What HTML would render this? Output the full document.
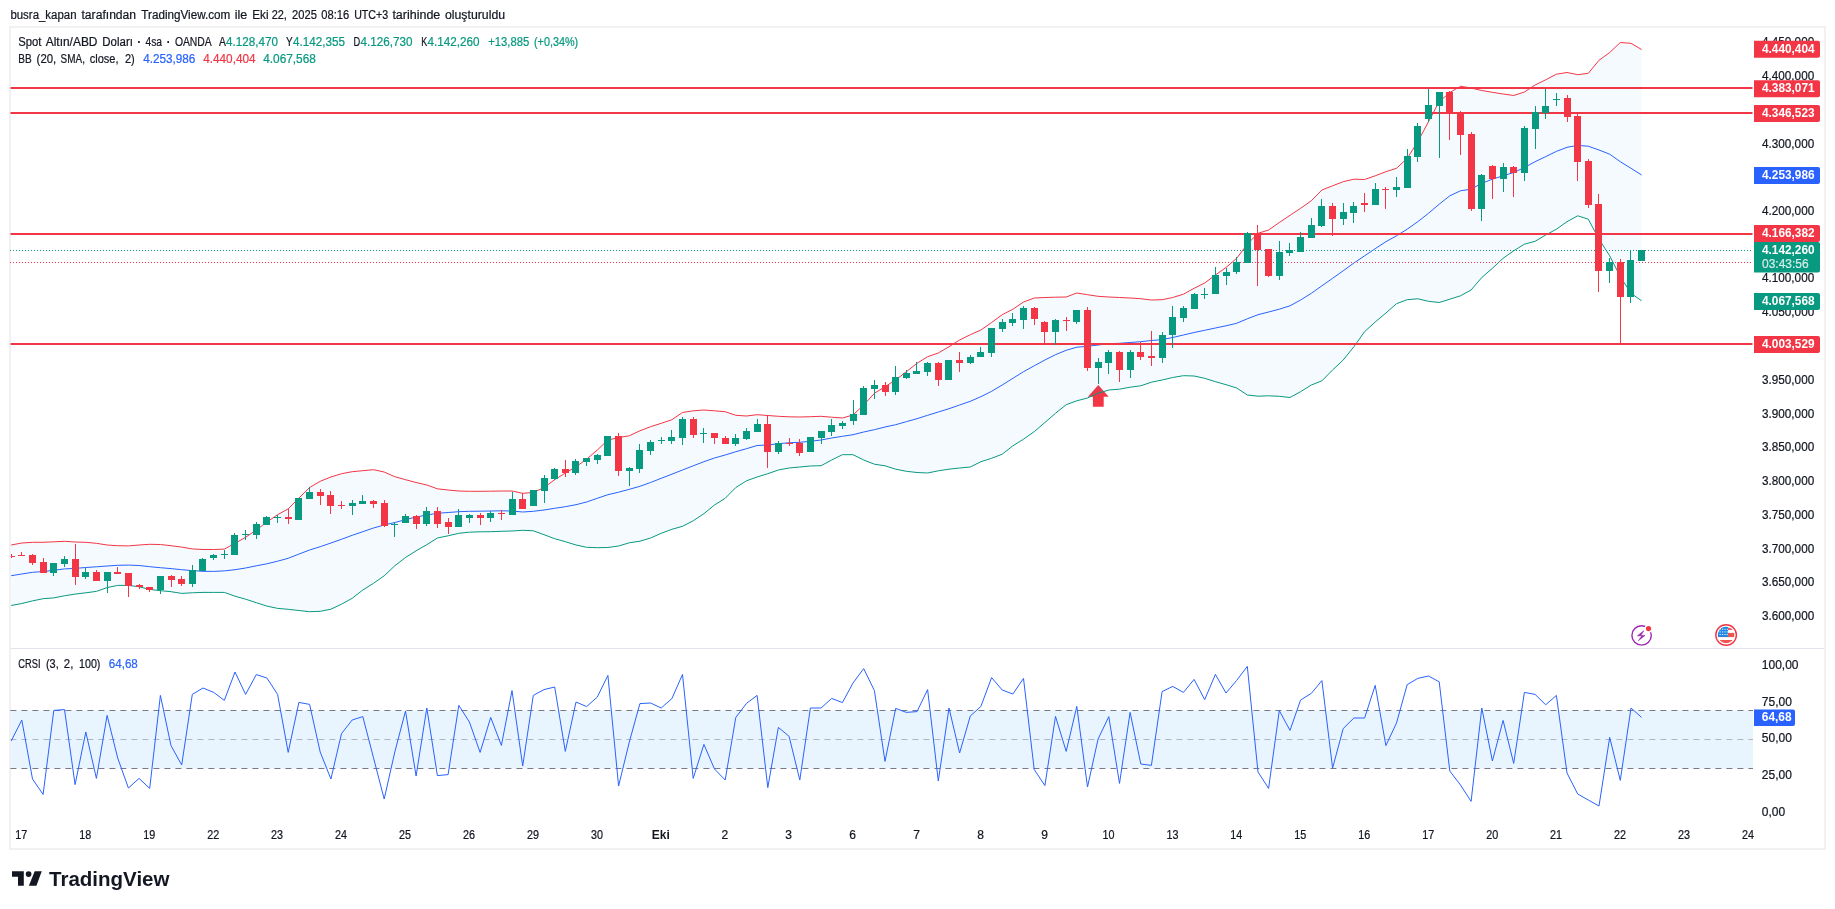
<!DOCTYPE html>
<html lang="tr"><head><meta charset="utf-8"><title>XAUUSD 4sa - TradingView</title>
<style>html,body{margin:0;padding:0;background:#fff}body{width:1835px;height:909px;overflow:hidden}svg{display:block;will-change:transform}text{white-space:pre}</style>
</head><body>
<svg width="1835" height="909" viewBox="0 0 1835 909" font-family='"Liberation Sans", sans-serif'>
<rect width="1835" height="909" fill="#fff"/>
<rect x="10" y="27" width="1815" height="822" fill="none" stroke="#f1f1f1" stroke-width="2"/>
<rect x="11" y="648" width="1813" height="1" fill="#e0e3eb"/>
<text x="10.4" y="18.6" font-size="12" fill="#131722" stroke="#131722" stroke-width="0.22" textLength="66.1" lengthAdjust="spacingAndGlyphs">busra_kapan</text>
<text x="81.5" y="18.6" font-size="12" fill="#131722" stroke="#131722" stroke-width="0.22" textLength="54.6" lengthAdjust="spacingAndGlyphs">tarafından</text>
<text x="141.3" y="18.6" font-size="12" fill="#131722" stroke="#131722" stroke-width="0.22" textLength="89.0" lengthAdjust="spacingAndGlyphs">TradingView.com</text>
<text x="234.8" y="18.6" font-size="12" fill="#131722" stroke="#131722" stroke-width="0.22" textLength="12.5" lengthAdjust="spacingAndGlyphs">ile</text>
<text x="252.2" y="18.6" font-size="12" fill="#131722" stroke="#131722" stroke-width="0.22" textLength="16.3" lengthAdjust="spacingAndGlyphs">Eki</text>
<text x="271.7" y="18.6" font-size="12" fill="#131722" stroke="#131722" stroke-width="0.22" textLength="15.2" lengthAdjust="spacingAndGlyphs">22,</text>
<text x="292.1" y="18.6" font-size="12" fill="#131722" stroke="#131722" stroke-width="0.22" textLength="24.8" lengthAdjust="spacingAndGlyphs">2025</text>
<text x="321.3" y="18.6" font-size="12" fill="#131722" stroke="#131722" stroke-width="0.22" textLength="27.9" lengthAdjust="spacingAndGlyphs">08:16</text>
<text x="354.2" y="18.6" font-size="12" fill="#131722" stroke="#131722" stroke-width="0.22" textLength="34.0" lengthAdjust="spacingAndGlyphs">UTC+3</text>
<text x="392.4" y="18.6" font-size="12" fill="#131722" stroke="#131722" stroke-width="0.22" textLength="47.9" lengthAdjust="spacingAndGlyphs">tarihinde</text>
<text x="444.9" y="18.6" font-size="12" fill="#131722" stroke="#131722" stroke-width="0.22" textLength="60.2" lengthAdjust="spacingAndGlyphs">oluşturuldu</text>
<clipPath id="mc"><rect x="11" y="28.5" width="1742" height="619.5"/></clipPath>
<g clip-path="url(#mc)">
<path d="M1098.3,385 L1108.7,396.8 L1103.7,396.8 L1103.7,406.8 L1092.8999999999999,406.8 L1092.8999999999999,396.8 L1087.8999999999999,396.8 Z" fill="#F23645"/>
<polygon points="11.2,545.0 21.8,543.0 32.5,542.3 43.1,542.3 53.8,541.8 64.5,541.3 75.1,542.0 85.8,542.3 96.4,543.3 107.1,545.0 117.7,545.7 128.4,545.9 139.1,545.0 149.7,544.3 160.4,544.5 171.0,545.7 181.7,547.1 192.3,548.9 203.0,549.5 213.7,549.5 224.3,549.1 235.0,543.3 245.6,537.3 256.3,530.0 266.9,522.0 277.6,514.7 288.2,508.9 298.9,498.1 309.6,487.5 320.2,481.3 330.9,477.0 341.5,473.7 352.2,471.7 362.8,470.7 373.5,469.7 384.2,472.0 394.8,476.7 405.5,479.7 416.1,482.5 426.8,485.0 437.4,488.8 448.1,490.0 458.8,491.0 469.4,491.3 480.1,491.3 490.7,491.2 501.4,491.0 512.0,491.0 522.7,493.3 533.3,492.5 544.0,487.5 554.7,479.7 565.3,473.0 576.0,466.7 586.6,459.2 597.3,450.0 607.9,440.0 618.6,437.5 629.3,435.8 639.9,430.8 650.6,426.7 661.2,423.3 671.9,419.7 682.5,412.5 693.2,410.8 703.9,410.0 714.5,410.8 725.2,411.7 735.8,415.3 746.5,416.0 757.1,414.7 767.8,415.5 778.4,416.3 789.1,416.8 799.8,417.0 810.4,416.7 821.1,416.3 831.7,417.2 842.4,418.0 853.0,415.0 863.7,405.0 874.4,393.3 885.0,386.7 895.7,380.0 906.3,371.7 917.0,363.3 927.6,356.7 938.3,353.0 949.0,346.7 959.6,340.0 970.3,334.7 980.9,330.0 991.6,322.5 1002.2,314.7 1012.9,309.2 1023.5,302.0 1034.2,298.0 1044.9,297.5 1055.5,297.2 1066.2,297.0 1076.8,293.0 1087.5,294.7 1098.1,296.3 1108.8,297.0 1119.5,297.5 1130.1,298.0 1140.8,298.7 1151.4,300.0 1162.1,299.7 1172.7,297.5 1183.4,294.2 1194.1,288.3 1204.7,283.0 1215.4,275.0 1226.0,267.5 1236.7,258.3 1247.3,244.2 1258.0,233.3 1268.6,230.0 1279.3,222.5 1290.0,215.3 1300.6,208.3 1311.3,200.8 1321.9,190.0 1332.6,185.8 1343.2,181.7 1353.9,179.2 1364.6,179.5 1375.2,175.8 1385.9,171.7 1396.5,168.3 1407.2,158.3 1417.8,141.7 1428.5,121.7 1439.2,101.7 1449.8,92.5 1460.5,86.3 1471.1,88.0 1481.8,90.5 1492.4,92.3 1503.1,94.0 1513.7,95.5 1524.4,92.0 1535.1,85.0 1545.7,79.8 1556.4,74.2 1567.0,72.5 1577.7,74.7 1588.3,73.3 1599.0,60.3 1609.7,52.5 1620.3,42.5 1631.0,43.3 1641.6,49.5 1641.6,300.8 1631.0,293.3 1620.3,276.7 1609.7,255.8 1599.0,239.2 1588.3,219.2 1577.7,215.8 1567.0,221.7 1556.4,229.2 1545.7,235.0 1535.1,241.3 1524.4,244.2 1513.7,250.8 1503.1,258.3 1492.4,268.3 1481.8,277.5 1471.1,290.0 1460.5,295.8 1449.8,299.2 1439.2,302.5 1428.5,301.3 1417.8,298.8 1407.2,299.7 1396.5,303.7 1385.9,313.0 1375.2,322.0 1364.6,331.7 1353.9,346.7 1343.2,360.0 1332.6,370.0 1321.9,380.8 1311.3,385.0 1300.6,391.7 1290.0,397.5 1279.3,396.3 1268.6,395.8 1258.0,396.2 1247.3,395.0 1236.7,388.0 1226.0,384.7 1215.4,381.7 1204.7,378.3 1194.1,376.0 1183.4,375.7 1172.7,377.5 1162.1,380.0 1151.4,382.2 1140.8,385.8 1130.1,387.2 1119.5,389.2 1108.8,390.0 1098.1,393.3 1087.5,398.0 1076.8,400.8 1066.2,404.7 1055.5,413.3 1044.9,422.5 1034.2,431.7 1023.5,439.2 1012.9,445.8 1002.2,454.2 991.6,458.3 980.9,461.7 970.3,467.0 959.6,468.0 949.0,469.2 938.3,470.8 927.6,473.0 917.0,472.5 906.3,471.3 895.7,469.2 885.0,465.8 874.4,464.2 863.7,460.0 853.0,454.7 842.4,454.7 831.7,460.0 821.1,465.7 810.4,466.0 799.8,467.0 789.1,468.0 778.4,470.0 767.8,473.7 757.1,477.0 746.5,480.8 735.8,487.5 725.2,498.3 714.5,505.0 703.9,513.7 693.2,520.8 682.5,526.3 671.9,529.3 661.2,533.3 650.6,538.0 639.9,541.2 629.3,542.8 618.6,546.0 607.9,547.5 597.3,547.7 586.6,547.3 576.0,545.0 565.3,541.7 554.7,538.7 544.0,534.7 533.3,530.8 522.7,530.3 512.0,531.0 501.4,531.3 490.7,531.7 480.1,531.8 469.4,532.2 458.8,533.3 448.1,535.8 437.4,538.0 426.8,544.7 416.1,550.8 405.5,557.5 394.8,565.8 384.2,575.8 373.5,583.3 362.8,590.0 352.2,598.3 341.5,604.2 330.9,609.2 320.2,611.3 309.6,611.7 298.9,610.5 288.2,609.3 277.6,608.4 266.9,606.1 256.3,602.7 245.6,599.2 235.0,596.2 224.3,592.4 213.7,592.4 203.0,592.4 192.3,592.8 181.7,593.4 171.0,591.7 160.4,590.7 149.7,589.4 139.1,586.8 128.4,585.4 117.7,585.4 107.1,587.6 96.4,591.4 85.8,592.8 75.1,594.1 64.5,595.8 53.8,597.9 43.1,598.7 32.5,600.9 21.8,603.5 11.2,605.5" fill="#2196F3" fill-opacity="0.05"/>
<polyline points="11.2,545.0 21.8,543.0 32.5,542.3 43.1,542.3 53.8,541.8 64.5,541.3 75.1,542.0 85.8,542.3 96.4,543.3 107.1,545.0 117.7,545.7 128.4,545.9 139.1,545.0 149.7,544.3 160.4,544.5 171.0,545.7 181.7,547.1 192.3,548.9 203.0,549.5 213.7,549.5 224.3,549.1 235.0,543.3 245.6,537.3 256.3,530.0 266.9,522.0 277.6,514.7 288.2,508.9 298.9,498.1 309.6,487.5 320.2,481.3 330.9,477.0 341.5,473.7 352.2,471.7 362.8,470.7 373.5,469.7 384.2,472.0 394.8,476.7 405.5,479.7 416.1,482.5 426.8,485.0 437.4,488.8 448.1,490.0 458.8,491.0 469.4,491.3 480.1,491.3 490.7,491.2 501.4,491.0 512.0,491.0 522.7,493.3 533.3,492.5 544.0,487.5 554.7,479.7 565.3,473.0 576.0,466.7 586.6,459.2 597.3,450.0 607.9,440.0 618.6,437.5 629.3,435.8 639.9,430.8 650.6,426.7 661.2,423.3 671.9,419.7 682.5,412.5 693.2,410.8 703.9,410.0 714.5,410.8 725.2,411.7 735.8,415.3 746.5,416.0 757.1,414.7 767.8,415.5 778.4,416.3 789.1,416.8 799.8,417.0 810.4,416.7 821.1,416.3 831.7,417.2 842.4,418.0 853.0,415.0 863.7,405.0 874.4,393.3 885.0,386.7 895.7,380.0 906.3,371.7 917.0,363.3 927.6,356.7 938.3,353.0 949.0,346.7 959.6,340.0 970.3,334.7 980.9,330.0 991.6,322.5 1002.2,314.7 1012.9,309.2 1023.5,302.0 1034.2,298.0 1044.9,297.5 1055.5,297.2 1066.2,297.0 1076.8,293.0 1087.5,294.7 1098.1,296.3 1108.8,297.0 1119.5,297.5 1130.1,298.0 1140.8,298.7 1151.4,300.0 1162.1,299.7 1172.7,297.5 1183.4,294.2 1194.1,288.3 1204.7,283.0 1215.4,275.0 1226.0,267.5 1236.7,258.3 1247.3,244.2 1258.0,233.3 1268.6,230.0 1279.3,222.5 1290.0,215.3 1300.6,208.3 1311.3,200.8 1321.9,190.0 1332.6,185.8 1343.2,181.7 1353.9,179.2 1364.6,179.5 1375.2,175.8 1385.9,171.7 1396.5,168.3 1407.2,158.3 1417.8,141.7 1428.5,121.7 1439.2,101.7 1449.8,92.5 1460.5,86.3 1471.1,88.0 1481.8,90.5 1492.4,92.3 1503.1,94.0 1513.7,95.5 1524.4,92.0 1535.1,85.0 1545.7,79.8 1556.4,74.2 1567.0,72.5 1577.7,74.7 1588.3,73.3 1599.0,60.3 1609.7,52.5 1620.3,42.5 1631.0,43.3 1641.6,49.5" fill="none" stroke="#F23645" stroke-width="1" stroke-linejoin="round"/>
<polyline points="11.2,605.5 21.8,603.5 32.5,600.9 43.1,598.7 53.8,597.9 64.5,595.8 75.1,594.1 85.8,592.8 96.4,591.4 107.1,587.6 117.7,585.4 128.4,585.4 139.1,586.8 149.7,589.4 160.4,590.7 171.0,591.7 181.7,593.4 192.3,592.8 203.0,592.4 213.7,592.4 224.3,592.4 235.0,596.2 245.6,599.2 256.3,602.7 266.9,606.1 277.6,608.4 288.2,609.3 298.9,610.5 309.6,611.7 320.2,611.3 330.9,609.2 341.5,604.2 352.2,598.3 362.8,590.0 373.5,583.3 384.2,575.8 394.8,565.8 405.5,557.5 416.1,550.8 426.8,544.7 437.4,538.0 448.1,535.8 458.8,533.3 469.4,532.2 480.1,531.8 490.7,531.7 501.4,531.3 512.0,531.0 522.7,530.3 533.3,530.8 544.0,534.7 554.7,538.7 565.3,541.7 576.0,545.0 586.6,547.3 597.3,547.7 607.9,547.5 618.6,546.0 629.3,542.8 639.9,541.2 650.6,538.0 661.2,533.3 671.9,529.3 682.5,526.3 693.2,520.8 703.9,513.7 714.5,505.0 725.2,498.3 735.8,487.5 746.5,480.8 757.1,477.0 767.8,473.7 778.4,470.0 789.1,468.0 799.8,467.0 810.4,466.0 821.1,465.7 831.7,460.0 842.4,454.7 853.0,454.7 863.7,460.0 874.4,464.2 885.0,465.8 895.7,469.2 906.3,471.3 917.0,472.5 927.6,473.0 938.3,470.8 949.0,469.2 959.6,468.0 970.3,467.0 980.9,461.7 991.6,458.3 1002.2,454.2 1012.9,445.8 1023.5,439.2 1034.2,431.7 1044.9,422.5 1055.5,413.3 1066.2,404.7 1076.8,400.8 1087.5,398.0 1098.1,393.3 1108.8,390.0 1119.5,389.2 1130.1,387.2 1140.8,385.8 1151.4,382.2 1162.1,380.0 1172.7,377.5 1183.4,375.7 1194.1,376.0 1204.7,378.3 1215.4,381.7 1226.0,384.7 1236.7,388.0 1247.3,395.0 1258.0,396.2 1268.6,395.8 1279.3,396.3 1290.0,397.5 1300.6,391.7 1311.3,385.0 1321.9,380.8 1332.6,370.0 1343.2,360.0 1353.9,346.7 1364.6,331.7 1375.2,322.0 1385.9,313.0 1396.5,303.7 1407.2,299.7 1417.8,298.8 1428.5,301.3 1439.2,302.5 1449.8,299.2 1460.5,295.8 1471.1,290.0 1481.8,277.5 1492.4,268.3 1503.1,258.3 1513.7,250.8 1524.4,244.2 1535.1,241.3 1545.7,235.0 1556.4,229.2 1567.0,221.7 1577.7,215.8 1588.3,219.2 1599.0,239.2 1609.7,255.8 1620.3,276.7 1631.0,293.3 1641.6,300.8" fill="none" stroke="#089981" stroke-width="1" stroke-linejoin="round"/>
<polyline points="11.2,575.7 21.8,574.0 32.5,572.3 43.1,571.6 53.8,570.3 64.5,568.9 75.1,568.4 85.8,567.5 96.4,566.8 107.1,566.0 117.7,565.3 128.4,565.1 139.1,565.5 149.7,566.7 160.4,567.7 171.0,568.6 181.7,569.7 192.3,570.6 203.0,571.3 213.7,571.4 224.3,570.9 235.0,569.7 245.6,568.0 256.3,565.8 266.9,563.8 277.6,561.2 288.2,558.3 298.9,554.1 309.6,550.0 320.2,546.7 330.9,543.0 341.5,539.3 352.2,535.3 362.8,531.7 373.5,528.0 384.2,525.0 394.8,522.5 405.5,519.7 416.1,517.0 426.8,515.0 437.4,513.3 448.1,512.5 458.8,511.7 469.4,511.3 480.1,511.2 490.7,511.0 501.4,510.8 512.0,511.0 522.7,512.0 533.3,511.3 544.0,510.0 554.7,508.3 565.3,506.7 576.0,504.7 586.6,502.0 597.3,498.3 607.9,494.7 618.6,492.2 629.3,489.3 639.9,486.3 650.6,482.5 661.2,478.3 671.9,474.2 682.5,470.0 693.2,465.8 703.9,461.7 714.5,458.0 725.2,455.0 735.8,451.7 746.5,448.7 757.1,445.5 767.8,445.0 778.4,443.7 789.1,442.8 799.8,442.3 810.4,441.3 821.1,440.0 831.7,438.0 842.4,436.3 853.0,434.7 863.7,432.0 874.4,429.7 885.0,427.0 895.7,424.7 906.3,421.7 917.0,418.7 927.6,415.3 938.3,412.0 949.0,408.7 959.6,405.0 970.3,401.3 980.9,396.7 991.6,391.3 1002.2,385.0 1012.9,378.3 1023.5,371.7 1034.2,365.8 1044.9,360.0 1055.5,354.7 1066.2,350.3 1076.8,347.2 1087.5,346.3 1098.1,345.0 1108.8,343.7 1119.5,343.3 1130.1,342.5 1140.8,341.7 1151.4,340.5 1162.1,339.7 1172.7,337.5 1183.4,335.0 1194.1,332.5 1204.7,330.3 1215.4,328.0 1226.0,325.8 1236.7,323.3 1247.3,318.8 1258.0,314.7 1268.6,312.0 1279.3,309.2 1290.0,305.8 1300.6,300.0 1311.3,293.3 1321.9,285.8 1332.6,278.3 1343.2,270.8 1353.9,263.0 1364.6,255.8 1375.2,248.7 1385.9,241.7 1396.5,235.8 1407.2,229.2 1417.8,221.7 1428.5,213.3 1439.2,204.2 1449.8,195.8 1460.5,190.8 1471.1,189.2 1481.8,183.3 1492.4,179.2 1503.1,175.8 1513.7,172.5 1524.4,167.5 1535.1,161.7 1545.7,156.6 1556.4,151.4 1567.0,147.3 1577.7,145.4 1588.3,146.2 1599.0,150.0 1609.7,154.2 1620.3,161.7 1631.0,168.3 1641.6,175.0" fill="none" stroke="#2962FF" stroke-width="1" stroke-linejoin="round"/>
</g>
<line x1="10" y1="250.5" x2="1752" y2="250.5" stroke="#089981" stroke-width="1" stroke-dasharray="1 2"/>
<line x1="10" y1="262.5" x2="1752" y2="262.5" stroke="#F23645" stroke-width="1" stroke-dasharray="1 2"/>
<rect x="10.5" y="87" width="1742" height="2" fill="#F23645"/>
<rect x="10.5" y="112" width="1742" height="2" fill="#F23645"/>
<rect x="10.5" y="233" width="1742" height="2" fill="#F23645"/>
<rect x="10.5" y="343" width="1742" height="2" fill="#F23645"/>
<g shape-rendering="crispEdges">
<rect x="11" y="554" width="1" height="4" fill="#F23645"/>
<rect x="11" y="556" width="4" height="1" fill="#F23645"/>
<rect x="21" y="552" width="1" height="4" fill="#F23645"/>
<rect x="18" y="555" width="7" height="1" fill="#F23645"/>
<rect x="32" y="554" width="1" height="11" fill="#F23645"/>
<rect x="29" y="555" width="7" height="8" fill="#F23645"/>
<rect x="43" y="558" width="1" height="15" fill="#F23645"/>
<rect x="40" y="562" width="7" height="11" fill="#F23645"/>
<rect x="53" y="563" width="1" height="13" fill="#089981"/>
<rect x="50" y="563" width="7" height="10" fill="#089981"/>
<rect x="64" y="556" width="1" height="11" fill="#089981"/>
<rect x="61" y="559" width="7" height="5" fill="#089981"/>
<rect x="75" y="544" width="1" height="41" fill="#F23645"/>
<rect x="72" y="559" width="7" height="18" fill="#F23645"/>
<rect x="85" y="568" width="1" height="11" fill="#089981"/>
<rect x="82" y="572" width="7" height="5" fill="#089981"/>
<rect x="96" y="570" width="1" height="11" fill="#F23645"/>
<rect x="93" y="572" width="7" height="9" fill="#F23645"/>
<rect x="107" y="572" width="1" height="21" fill="#089981"/>
<rect x="104" y="572" width="7" height="9" fill="#089981"/>
<rect x="117" y="567" width="1" height="7" fill="#F23645"/>
<rect x="114" y="572" width="7" height="2" fill="#F23645"/>
<rect x="128" y="573" width="1" height="24" fill="#F23645"/>
<rect x="125" y="573" width="7" height="13" fill="#F23645"/>
<rect x="139" y="584" width="1" height="5" fill="#F23645"/>
<rect x="136" y="585" width="7" height="2" fill="#F23645"/>
<rect x="149" y="587" width="1" height="5" fill="#F23645"/>
<rect x="146" y="587" width="7" height="3" fill="#F23645"/>
<rect x="160" y="576" width="1" height="18" fill="#089981"/>
<rect x="157" y="576" width="7" height="14" fill="#089981"/>
<rect x="171" y="575" width="1" height="12" fill="#F23645"/>
<rect x="168" y="576" width="7" height="4" fill="#F23645"/>
<rect x="181" y="576" width="1" height="10" fill="#F23645"/>
<rect x="178" y="579" width="7" height="5" fill="#F23645"/>
<rect x="192" y="565" width="1" height="22" fill="#089981"/>
<rect x="189" y="570" width="7" height="14" fill="#089981"/>
<rect x="202" y="558" width="1" height="13" fill="#089981"/>
<rect x="199" y="559" width="7" height="12" fill="#089981"/>
<rect x="213" y="554" width="1" height="6" fill="#089981"/>
<rect x="210" y="555" width="7" height="3" fill="#089981"/>
<rect x="224" y="550" width="1" height="9" fill="#089981"/>
<rect x="221" y="554" width="7" height="1" fill="#089981"/>
<rect x="234" y="533" width="1" height="22" fill="#089981"/>
<rect x="231" y="535" width="7" height="20" fill="#089981"/>
<rect x="245" y="530" width="1" height="10" fill="#089981"/>
<rect x="242" y="534" width="7" height="1" fill="#089981"/>
<rect x="256" y="522" width="1" height="17" fill="#089981"/>
<rect x="253" y="524" width="7" height="11" fill="#089981"/>
<rect x="266" y="516" width="1" height="9" fill="#089981"/>
<rect x="263" y="517" width="7" height="8" fill="#089981"/>
<rect x="277" y="515" width="1" height="8" fill="#089981"/>
<rect x="274" y="517" width="7" height="1" fill="#089981"/>
<rect x="288" y="509" width="1" height="15" fill="#F23645"/>
<rect x="285" y="517" width="7" height="2" fill="#F23645"/>
<rect x="298" y="498" width="1" height="22" fill="#089981"/>
<rect x="295" y="498" width="7" height="22" fill="#089981"/>
<rect x="309" y="487" width="1" height="12" fill="#089981"/>
<rect x="306" y="492" width="7" height="7" fill="#089981"/>
<rect x="320" y="489" width="1" height="16" fill="#F23645"/>
<rect x="317" y="492" width="7" height="4" fill="#F23645"/>
<rect x="330" y="491" width="1" height="23" fill="#F23645"/>
<rect x="327" y="495" width="7" height="11" fill="#F23645"/>
<rect x="341" y="501" width="1" height="8" fill="#F23645"/>
<rect x="338" y="505" width="7" height="1" fill="#F23645"/>
<rect x="352" y="500" width="1" height="15" fill="#089981"/>
<rect x="349" y="503" width="7" height="3" fill="#089981"/>
<rect x="362" y="495" width="1" height="9" fill="#089981"/>
<rect x="359" y="501" width="7" height="3" fill="#089981"/>
<rect x="373" y="500" width="1" height="8" fill="#F23645"/>
<rect x="370" y="501" width="7" height="3" fill="#F23645"/>
<rect x="384" y="500" width="1" height="27" fill="#F23645"/>
<rect x="381" y="503" width="7" height="23" fill="#F23645"/>
<rect x="394" y="522" width="1" height="15" fill="#089981"/>
<rect x="391" y="524" width="7" height="1" fill="#089981"/>
<rect x="405" y="514" width="1" height="9" fill="#089981"/>
<rect x="402" y="516" width="7" height="7" fill="#089981"/>
<rect x="416" y="515" width="1" height="14" fill="#F23645"/>
<rect x="413" y="516" width="7" height="8" fill="#F23645"/>
<rect x="426" y="507" width="1" height="19" fill="#089981"/>
<rect x="423" y="511" width="7" height="13" fill="#089981"/>
<rect x="437" y="507" width="1" height="21" fill="#F23645"/>
<rect x="434" y="511" width="7" height="13" fill="#F23645"/>
<rect x="448" y="518" width="1" height="16" fill="#F23645"/>
<rect x="445" y="522" width="7" height="5" fill="#F23645"/>
<rect x="458" y="509" width="1" height="18" fill="#089981"/>
<rect x="455" y="515" width="7" height="12" fill="#089981"/>
<rect x="469" y="514" width="1" height="9" fill="#089981"/>
<rect x="466" y="515" width="7" height="3" fill="#089981"/>
<rect x="480" y="513" width="1" height="12" fill="#F23645"/>
<rect x="477" y="515" width="7" height="3" fill="#F23645"/>
<rect x="490" y="511" width="1" height="11" fill="#089981"/>
<rect x="487" y="513" width="7" height="5" fill="#089981"/>
<rect x="501" y="510" width="1" height="10" fill="#F23645"/>
<rect x="498" y="513" width="7" height="1" fill="#F23645"/>
<rect x="512" y="492" width="1" height="23" fill="#089981"/>
<rect x="509" y="499" width="7" height="16" fill="#089981"/>
<rect x="522" y="493" width="1" height="16" fill="#F23645"/>
<rect x="519" y="499" width="7" height="10" fill="#F23645"/>
<rect x="533" y="490" width="1" height="16" fill="#089981"/>
<rect x="530" y="490" width="7" height="16" fill="#089981"/>
<rect x="544" y="475" width="1" height="28" fill="#089981"/>
<rect x="541" y="478" width="7" height="13" fill="#089981"/>
<rect x="554" y="468" width="1" height="12" fill="#089981"/>
<rect x="551" y="469" width="7" height="10" fill="#089981"/>
<rect x="565" y="460" width="1" height="17" fill="#F23645"/>
<rect x="562" y="469" width="7" height="4" fill="#F23645"/>
<rect x="575" y="459" width="1" height="16" fill="#089981"/>
<rect x="572" y="461" width="7" height="12" fill="#089981"/>
<rect x="586" y="458" width="1" height="8" fill="#089981"/>
<rect x="583" y="458" width="7" height="4" fill="#089981"/>
<rect x="597" y="454" width="1" height="10" fill="#089981"/>
<rect x="594" y="455" width="7" height="5" fill="#089981"/>
<rect x="607" y="436" width="1" height="20" fill="#089981"/>
<rect x="604" y="436" width="7" height="20" fill="#089981"/>
<rect x="618" y="433" width="1" height="43" fill="#F23645"/>
<rect x="615" y="436" width="7" height="35" fill="#F23645"/>
<rect x="629" y="467" width="1" height="19" fill="#089981"/>
<rect x="626" y="468" width="7" height="3" fill="#089981"/>
<rect x="639" y="444" width="1" height="29" fill="#089981"/>
<rect x="636" y="450" width="7" height="19" fill="#089981"/>
<rect x="650" y="440" width="1" height="15" fill="#089981"/>
<rect x="647" y="442" width="7" height="9" fill="#089981"/>
<rect x="661" y="437" width="1" height="7" fill="#089981"/>
<rect x="658" y="440" width="7" height="1" fill="#089981"/>
<rect x="671" y="430" width="1" height="14" fill="#089981"/>
<rect x="668" y="437" width="7" height="4" fill="#089981"/>
<rect x="682" y="417" width="1" height="28" fill="#089981"/>
<rect x="679" y="419" width="7" height="19" fill="#089981"/>
<rect x="693" y="417" width="1" height="21" fill="#F23645"/>
<rect x="690" y="419" width="7" height="16" fill="#F23645"/>
<rect x="703" y="428" width="1" height="15" fill="#089981"/>
<rect x="700" y="433" width="7" height="1" fill="#089981"/>
<rect x="714" y="433" width="1" height="11" fill="#F23645"/>
<rect x="711" y="433" width="7" height="5" fill="#F23645"/>
<rect x="725" y="436" width="1" height="8" fill="#F23645"/>
<rect x="722" y="438" width="7" height="6" fill="#F23645"/>
<rect x="735" y="434" width="1" height="12" fill="#089981"/>
<rect x="732" y="438" width="7" height="6" fill="#089981"/>
<rect x="746" y="428" width="1" height="12" fill="#089981"/>
<rect x="743" y="431" width="7" height="8" fill="#089981"/>
<rect x="757" y="419" width="1" height="13" fill="#089981"/>
<rect x="754" y="424" width="7" height="8" fill="#089981"/>
<rect x="767" y="415" width="1" height="53" fill="#F23645"/>
<rect x="764" y="424" width="7" height="28" fill="#F23645"/>
<rect x="778" y="441" width="1" height="13" fill="#089981"/>
<rect x="775" y="443" width="7" height="9" fill="#089981"/>
<rect x="789" y="438" width="1" height="8" fill="#F23645"/>
<rect x="786" y="443" width="7" height="1" fill="#F23645"/>
<rect x="799" y="439" width="1" height="17" fill="#F23645"/>
<rect x="796" y="443" width="7" height="10" fill="#F23645"/>
<rect x="810" y="437" width="1" height="15" fill="#089981"/>
<rect x="807" y="437" width="7" height="15" fill="#089981"/>
<rect x="821" y="431" width="1" height="13" fill="#089981"/>
<rect x="818" y="431" width="7" height="7" fill="#089981"/>
<rect x="831" y="419" width="1" height="17" fill="#089981"/>
<rect x="828" y="425" width="7" height="7" fill="#089981"/>
<rect x="842" y="421" width="1" height="8" fill="#089981"/>
<rect x="839" y="423" width="7" height="3" fill="#089981"/>
<rect x="853" y="400" width="1" height="25" fill="#089981"/>
<rect x="850" y="414" width="7" height="7" fill="#089981"/>
<rect x="863" y="386" width="1" height="29" fill="#089981"/>
<rect x="860" y="388" width="7" height="27" fill="#089981"/>
<rect x="874" y="380" width="1" height="19" fill="#089981"/>
<rect x="871" y="385" width="7" height="4" fill="#089981"/>
<rect x="885" y="382" width="1" height="14" fill="#F23645"/>
<rect x="882" y="385" width="7" height="7" fill="#F23645"/>
<rect x="895" y="366" width="1" height="29" fill="#089981"/>
<rect x="892" y="377" width="7" height="15" fill="#089981"/>
<rect x="906" y="370" width="1" height="9" fill="#089981"/>
<rect x="903" y="373" width="7" height="5" fill="#089981"/>
<rect x="916" y="362" width="1" height="12" fill="#089981"/>
<rect x="913" y="371" width="7" height="3" fill="#089981"/>
<rect x="927" y="362" width="1" height="14" fill="#089981"/>
<rect x="924" y="363" width="7" height="9" fill="#089981"/>
<rect x="938" y="362" width="1" height="24" fill="#F23645"/>
<rect x="935" y="363" width="7" height="17" fill="#F23645"/>
<rect x="948" y="360" width="1" height="20" fill="#089981"/>
<rect x="945" y="360" width="7" height="20" fill="#089981"/>
<rect x="959" y="352" width="1" height="20" fill="#F23645"/>
<rect x="956" y="360" width="7" height="3" fill="#F23645"/>
<rect x="970" y="355" width="1" height="9" fill="#089981"/>
<rect x="967" y="357" width="7" height="6" fill="#089981"/>
<rect x="980" y="347" width="1" height="10" fill="#089981"/>
<rect x="977" y="352" width="7" height="5" fill="#089981"/>
<rect x="991" y="328" width="1" height="29" fill="#089981"/>
<rect x="988" y="328" width="7" height="25" fill="#089981"/>
<rect x="1002" y="319" width="1" height="13" fill="#089981"/>
<rect x="999" y="322" width="7" height="7" fill="#089981"/>
<rect x="1012" y="313" width="1" height="13" fill="#089981"/>
<rect x="1009" y="319" width="7" height="4" fill="#089981"/>
<rect x="1023" y="306" width="1" height="23" fill="#089981"/>
<rect x="1020" y="308" width="7" height="12" fill="#089981"/>
<rect x="1034" y="307" width="1" height="18" fill="#F23645"/>
<rect x="1031" y="308" width="7" height="11" fill="#F23645"/>
<rect x="1044" y="321" width="1" height="23" fill="#F23645"/>
<rect x="1041" y="322" width="7" height="10" fill="#F23645"/>
<rect x="1055" y="319" width="1" height="26" fill="#089981"/>
<rect x="1052" y="320" width="7" height="12" fill="#089981"/>
<rect x="1066" y="317" width="1" height="14" fill="#F23645"/>
<rect x="1063" y="320" width="7" height="1" fill="#F23645"/>
<rect x="1076" y="310" width="1" height="14" fill="#089981"/>
<rect x="1073" y="310" width="7" height="12" fill="#089981"/>
<rect x="1087" y="307" width="1" height="64" fill="#F23645"/>
<rect x="1084" y="310" width="7" height="58" fill="#F23645"/>
<rect x="1098" y="358" width="1" height="26" fill="#089981"/>
<rect x="1095" y="362" width="7" height="6" fill="#089981"/>
<rect x="1108" y="350" width="1" height="24" fill="#089981"/>
<rect x="1105" y="352" width="7" height="11" fill="#089981"/>
<rect x="1119" y="351" width="1" height="31" fill="#F23645"/>
<rect x="1116" y="352" width="7" height="18" fill="#F23645"/>
<rect x="1130" y="350" width="1" height="28" fill="#089981"/>
<rect x="1127" y="352" width="7" height="18" fill="#089981"/>
<rect x="1140" y="342" width="1" height="18" fill="#F23645"/>
<rect x="1137" y="352" width="7" height="5" fill="#F23645"/>
<rect x="1151" y="331" width="1" height="35" fill="#F23645"/>
<rect x="1148" y="356" width="7" height="2" fill="#F23645"/>
<rect x="1162" y="332" width="1" height="31" fill="#089981"/>
<rect x="1159" y="335" width="7" height="23" fill="#089981"/>
<rect x="1172" y="306" width="1" height="42" fill="#089981"/>
<rect x="1169" y="317" width="7" height="18" fill="#089981"/>
<rect x="1183" y="306" width="1" height="16" fill="#089981"/>
<rect x="1180" y="308" width="7" height="10" fill="#089981"/>
<rect x="1194" y="293" width="1" height="16" fill="#089981"/>
<rect x="1191" y="294" width="7" height="15" fill="#089981"/>
<rect x="1204" y="288" width="1" height="11" fill="#089981"/>
<rect x="1201" y="294" width="7" height="1" fill="#089981"/>
<rect x="1215" y="267" width="1" height="27" fill="#089981"/>
<rect x="1212" y="275" width="7" height="19" fill="#089981"/>
<rect x="1226" y="268" width="1" height="17" fill="#089981"/>
<rect x="1223" y="272" width="7" height="4" fill="#089981"/>
<rect x="1236" y="257" width="1" height="17" fill="#089981"/>
<rect x="1233" y="262" width="7" height="10" fill="#089981"/>
<rect x="1247" y="232" width="1" height="31" fill="#089981"/>
<rect x="1244" y="233" width="7" height="30" fill="#089981"/>
<rect x="1257" y="225" width="1" height="61" fill="#F23645"/>
<rect x="1254" y="233" width="7" height="17" fill="#F23645"/>
<rect x="1268" y="249" width="1" height="28" fill="#F23645"/>
<rect x="1265" y="249" width="7" height="27" fill="#F23645"/>
<rect x="1279" y="241" width="1" height="39" fill="#089981"/>
<rect x="1276" y="252" width="7" height="24" fill="#089981"/>
<rect x="1289" y="243" width="1" height="13" fill="#089981"/>
<rect x="1286" y="250" width="7" height="3" fill="#089981"/>
<rect x="1300" y="232" width="1" height="20" fill="#089981"/>
<rect x="1297" y="237" width="7" height="15" fill="#089981"/>
<rect x="1311" y="218" width="1" height="20" fill="#089981"/>
<rect x="1308" y="225" width="7" height="13" fill="#089981"/>
<rect x="1321" y="199" width="1" height="28" fill="#089981"/>
<rect x="1318" y="206" width="7" height="20" fill="#089981"/>
<rect x="1332" y="203" width="1" height="33" fill="#F23645"/>
<rect x="1329" y="206" width="7" height="13" fill="#F23645"/>
<rect x="1343" y="203" width="1" height="22" fill="#089981"/>
<rect x="1340" y="212" width="7" height="7" fill="#089981"/>
<rect x="1353" y="202" width="1" height="21" fill="#089981"/>
<rect x="1350" y="206" width="7" height="7" fill="#089981"/>
<rect x="1364" y="193" width="1" height="19" fill="#F23645"/>
<rect x="1361" y="203" width="7" height="2" fill="#F23645"/>
<rect x="1375" y="183" width="1" height="22" fill="#089981"/>
<rect x="1372" y="189" width="7" height="16" fill="#089981"/>
<rect x="1385" y="187" width="1" height="22" fill="#F23645"/>
<rect x="1382" y="189" width="7" height="1" fill="#F23645"/>
<rect x="1396" y="177" width="1" height="20" fill="#089981"/>
<rect x="1393" y="187" width="7" height="3" fill="#089981"/>
<rect x="1407" y="149" width="1" height="39" fill="#089981"/>
<rect x="1404" y="156" width="7" height="32" fill="#089981"/>
<rect x="1417" y="123" width="1" height="39" fill="#089981"/>
<rect x="1414" y="126" width="7" height="31" fill="#089981"/>
<rect x="1428" y="89" width="1" height="33" fill="#089981"/>
<rect x="1425" y="105" width="7" height="14" fill="#089981"/>
<rect x="1439" y="92" width="1" height="66" fill="#089981"/>
<rect x="1436" y="92" width="7" height="14" fill="#089981"/>
<rect x="1449" y="91" width="1" height="49" fill="#F23645"/>
<rect x="1446" y="92" width="7" height="21" fill="#F23645"/>
<rect x="1460" y="111" width="1" height="44" fill="#F23645"/>
<rect x="1457" y="112" width="7" height="23" fill="#F23645"/>
<rect x="1471" y="132" width="1" height="79" fill="#F23645"/>
<rect x="1468" y="134" width="7" height="75" fill="#F23645"/>
<rect x="1481" y="174" width="1" height="47" fill="#089981"/>
<rect x="1478" y="175" width="7" height="34" fill="#089981"/>
<rect x="1492" y="165" width="1" height="34" fill="#F23645"/>
<rect x="1489" y="166" width="7" height="13" fill="#F23645"/>
<rect x="1503" y="163" width="1" height="29" fill="#089981"/>
<rect x="1500" y="167" width="7" height="12" fill="#089981"/>
<rect x="1513" y="166" width="1" height="31" fill="#F23645"/>
<rect x="1510" y="167" width="7" height="6" fill="#F23645"/>
<rect x="1524" y="126" width="1" height="55" fill="#089981"/>
<rect x="1521" y="128" width="7" height="45" fill="#089981"/>
<rect x="1535" y="106" width="1" height="43" fill="#089981"/>
<rect x="1532" y="112" width="7" height="17" fill="#089981"/>
<rect x="1545" y="89" width="1" height="30" fill="#089981"/>
<rect x="1542" y="106" width="7" height="7" fill="#089981"/>
<rect x="1556" y="93" width="1" height="13" fill="#089981"/>
<rect x="1553" y="99" width="7" height="1" fill="#089981"/>
<rect x="1567" y="95" width="1" height="27" fill="#F23645"/>
<rect x="1564" y="98" width="7" height="19" fill="#F23645"/>
<rect x="1577" y="114" width="1" height="67" fill="#F23645"/>
<rect x="1574" y="116" width="7" height="46" fill="#F23645"/>
<rect x="1588" y="159" width="1" height="49" fill="#F23645"/>
<rect x="1585" y="161" width="7" height="44" fill="#F23645"/>
<rect x="1598" y="194" width="1" height="98" fill="#F23645"/>
<rect x="1595" y="204" width="7" height="67" fill="#F23645"/>
<rect x="1609" y="258" width="1" height="25" fill="#089981"/>
<rect x="1606" y="262" width="7" height="9" fill="#089981"/>
<rect x="1620" y="259" width="1" height="84" fill="#F23645"/>
<rect x="1617" y="262" width="7" height="35" fill="#F23645"/>
<rect x="1630" y="250" width="1" height="53" fill="#089981"/>
<rect x="1627" y="260" width="7" height="37" fill="#089981"/>
<rect x="1641" y="250" width="1" height="11" fill="#089981"/>
<rect x="1638" y="250" width="7" height="11" fill="#089981"/>
</g>
<text x="18.2" y="45.9" font-size="12" fill="#131722" stroke="#131722" stroke-width="0.22" textLength="23.2" lengthAdjust="spacingAndGlyphs">Spot</text>
<text x="45.7" y="45.9" font-size="12" fill="#131722" stroke="#131722" stroke-width="0.22" textLength="51.8" lengthAdjust="spacingAndGlyphs">Altın/ABD</text>
<text x="102.3" y="45.9" font-size="12" fill="#131722" stroke="#131722" stroke-width="0.22" textLength="30.6" lengthAdjust="spacingAndGlyphs">Doları</text>
<text x="145.5" y="45.9" font-size="12" fill="#131722" stroke="#131722" stroke-width="0.22" textLength="16.5" lengthAdjust="spacingAndGlyphs">4sa</text>
<text x="174.9" y="45.9" font-size="12" fill="#131722" stroke="#131722" stroke-width="0.22" textLength="36.8" lengthAdjust="spacingAndGlyphs">OANDA</text>
<text x="137.3" y="45.9" font-size="12" fill="#131722" font-weight="bold">·</text>
<text x="166.6" y="45.9" font-size="12" fill="#131722" font-weight="bold">·</text>
<text x="219" y="45.9" font-size="12" fill="#131722" stroke="#131722" stroke-width="0.22" textLength="6.9" lengthAdjust="spacingAndGlyphs">A</text>
<text x="226.1" y="45.9" font-size="12" fill="#089981" stroke="#089981" stroke-width="0.22" textLength="51.8" lengthAdjust="spacingAndGlyphs">4.128,470</text>
<text x="286" y="45.9" font-size="12" fill="#131722" stroke="#131722" stroke-width="0.22" textLength="6.7" lengthAdjust="spacingAndGlyphs">Y</text>
<text x="293.0" y="45.9" font-size="12" fill="#089981" stroke="#089981" stroke-width="0.22" textLength="52.0" lengthAdjust="spacingAndGlyphs">4.142,355</text>
<text x="353.6" y="45.9" font-size="12" fill="#131722" stroke="#131722" stroke-width="0.22" textLength="6.7" lengthAdjust="spacingAndGlyphs">D</text>
<text x="360.6" y="45.9" font-size="12" fill="#089981" stroke="#089981" stroke-width="0.22" textLength="51.9" lengthAdjust="spacingAndGlyphs">4.126,730</text>
<text x="421.2" y="45.9" font-size="12" fill="#131722" stroke="#131722" stroke-width="0.22" textLength="6.0" lengthAdjust="spacingAndGlyphs">K</text>
<text x="427.4" y="45.9" font-size="12" fill="#089981" stroke="#089981" stroke-width="0.22" textLength="52.1" lengthAdjust="spacingAndGlyphs">4.142,260</text>
<text x="488.2" y="45.9" font-size="12" fill="#089981" stroke="#089981" stroke-width="0.22" textLength="41.0" lengthAdjust="spacingAndGlyphs">+13,885</text>
<text x="534" y="45.9" font-size="12" fill="#089981" stroke="#089981" stroke-width="0.22" textLength="44.2" lengthAdjust="spacingAndGlyphs">(+0,34%)</text>
<text x="18.2" y="63.1" font-size="12" fill="#131722" stroke="#131722" stroke-width="0.22" textLength="13.4" lengthAdjust="spacingAndGlyphs">BB</text>
<text x="36.6" y="63.1" font-size="12" fill="#131722" stroke="#131722" stroke-width="0.22" textLength="19.6" lengthAdjust="spacingAndGlyphs">(20,</text>
<text x="60.6" y="63.1" font-size="12" fill="#131722" stroke="#131722" stroke-width="0.22" textLength="24.3" lengthAdjust="spacingAndGlyphs">SMA,</text>
<text x="89.7" y="63.1" font-size="12" fill="#131722" stroke="#131722" stroke-width="0.22" textLength="28.8" lengthAdjust="spacingAndGlyphs">close,</text>
<text x="124.9" y="63.1" font-size="12" fill="#131722" stroke="#131722" stroke-width="0.22" textLength="9.8" lengthAdjust="spacingAndGlyphs">2)</text>
<text x="143.2" y="63.1" font-size="12" fill="#2962FF" stroke="#2962FF" stroke-width="0.22" textLength="52.2" lengthAdjust="spacingAndGlyphs">4.253,986</text>
<text x="203.2" y="63.1" font-size="12" fill="#F23645" stroke="#F23645" stroke-width="0.22" textLength="52.4" lengthAdjust="spacingAndGlyphs">4.440,404</text>
<text x="263.2" y="63.1" font-size="12" fill="#089981" stroke="#089981" stroke-width="0.22" textLength="52.7" lengthAdjust="spacingAndGlyphs">4.067,568</text>
<text x="1762" y="45.9" font-size="12" fill="#131722" stroke="#131722" stroke-width="0.22" textLength="52.2" lengthAdjust="spacingAndGlyphs">4.450,000</text>
<text x="1762" y="80.0" font-size="12" fill="#131722" stroke="#131722" stroke-width="0.22" textLength="52.2" lengthAdjust="spacingAndGlyphs">4.400,000</text>
<text x="1762" y="147.8" font-size="12" fill="#131722" stroke="#131722" stroke-width="0.22" textLength="52.2" lengthAdjust="spacingAndGlyphs">4.300,000</text>
<text x="1762" y="215.2" font-size="12" fill="#131722" stroke="#131722" stroke-width="0.22" textLength="52.2" lengthAdjust="spacingAndGlyphs">4.200,000</text>
<text x="1762" y="282.3" font-size="12" fill="#131722" stroke="#131722" stroke-width="0.22" textLength="52.2" lengthAdjust="spacingAndGlyphs">4.100,000</text>
<text x="1762" y="316.1" font-size="12" fill="#131722" stroke="#131722" stroke-width="0.22" textLength="52.2" lengthAdjust="spacingAndGlyphs">4.050,000</text>
<text x="1762" y="383.8" font-size="12" fill="#131722" stroke="#131722" stroke-width="0.22" textLength="52.2" lengthAdjust="spacingAndGlyphs">3.950,000</text>
<text x="1762" y="417.6" font-size="12" fill="#131722" stroke="#131722" stroke-width="0.22" textLength="52.2" lengthAdjust="spacingAndGlyphs">3.900,000</text>
<text x="1762" y="451.4" font-size="12" fill="#131722" stroke="#131722" stroke-width="0.22" textLength="52.2" lengthAdjust="spacingAndGlyphs">3.850,000</text>
<text x="1762" y="485.1" font-size="12" fill="#131722" stroke="#131722" stroke-width="0.22" textLength="52.2" lengthAdjust="spacingAndGlyphs">3.800,000</text>
<text x="1762" y="518.9" font-size="12" fill="#131722" stroke="#131722" stroke-width="0.22" textLength="52.2" lengthAdjust="spacingAndGlyphs">3.750,000</text>
<text x="1762" y="552.6" font-size="12" fill="#131722" stroke="#131722" stroke-width="0.22" textLength="52.2" lengthAdjust="spacingAndGlyphs">3.700,000</text>
<text x="1762" y="586.4" font-size="12" fill="#131722" stroke="#131722" stroke-width="0.22" textLength="52.2" lengthAdjust="spacingAndGlyphs">3.650,000</text>
<text x="1762" y="620.1" font-size="12" fill="#131722" stroke="#131722" stroke-width="0.22" textLength="52.2" lengthAdjust="spacingAndGlyphs">3.600,000</text>
<path d="M1754,40.8 H1818 Q1820,40.8 1820,42.8 V55.8 Q1820,57.8 1818,57.8 H1754 Z" fill="#F23645"/>
<text x="1762" y="53.0" font-size="12" fill="#fff" font-weight="bold" textLength="52.6" lengthAdjust="spacingAndGlyphs">4.440,404</text>
<path d="M1754,80.2 H1818 Q1820,80.2 1820,82.2 V95.2 Q1820,97.2 1818,97.2 H1754 Z" fill="#F23645"/>
<text x="1762" y="92.4" font-size="12" fill="#fff" font-weight="bold" textLength="52.6" lengthAdjust="spacingAndGlyphs">4.383,071</text>
<path d="M1754,105.0 H1818 Q1820,105.0 1820,107.0 V120.0 Q1820,122.0 1818,122.0 H1754 Z" fill="#F23645"/>
<text x="1762" y="117.2" font-size="12" fill="#fff" font-weight="bold" textLength="52.6" lengthAdjust="spacingAndGlyphs">4.346,523</text>
<path d="M1754,167.0 H1818 Q1820,167.0 1820,169.0 V182.0 Q1820,184.0 1818,184.0 H1754 Z" fill="#2962FF"/>
<text x="1762" y="179.2" font-size="12" fill="#fff" font-weight="bold" textLength="52.6" lengthAdjust="spacingAndGlyphs">4.253,986</text>
<path d="M1754,225.0 H1818 Q1820,225.0 1820,227.0 V240.0 Q1820,242.0 1818,242.0 H1754 Z" fill="#F23645"/>
<text x="1762" y="237.2" font-size="12" fill="#fff" font-weight="bold" textLength="52.6" lengthAdjust="spacingAndGlyphs">4.166,382</text>
<path d="M1754,242 H1818 Q1820,242 1820,244 V270.5 Q1820,272.5 1818,272.5 H1754 Z" fill="#089981"/>
<text x="1762" y="254.2" font-size="12" fill="#fff" font-weight="bold" textLength="52.6" lengthAdjust="spacingAndGlyphs">4.142,260</text>
<text x="1762" y="268.2" font-size="12" fill="#fff" stroke="#fff" stroke-width="0.22" textLength="46.6" lengthAdjust="spacingAndGlyphs" fill-opacity="0.78" stroke-opacity="0.78">03:43:56</text>
<path d="M1754,293.0 H1818 Q1820,293.0 1820,295.0 V308.0 Q1820,310.0 1818,310.0 H1754 Z" fill="#089981"/>
<text x="1762" y="305.2" font-size="12" fill="#fff" font-weight="bold" textLength="52.6" lengthAdjust="spacingAndGlyphs">4.067,568</text>
<path d="M1754,336.1 H1818 Q1820,336.1 1820,338.1 V351.1 Q1820,353.1 1818,353.1 H1754 Z" fill="#F23645"/>
<text x="1762" y="348.3" font-size="12" fill="#fff" font-weight="bold" textLength="52.6" lengthAdjust="spacingAndGlyphs">4.003,529</text>
<rect x="11" y="710.5" width="1742" height="58" fill="#2196F3" fill-opacity="0.1"/>
<line x1="10.4" y1="710.5" x2="1753" y2="710.5" stroke="#787B86" stroke-width="1" stroke-dasharray="6 5"/>
<line x1="10.4" y1="739.5" x2="1753" y2="739.5" stroke="#b2b5be" stroke-width="1" stroke-dasharray="6 5"/>
<line x1="10.4" y1="768.5" x2="1753" y2="768.5" stroke="#787B86" stroke-width="1" stroke-dasharray="6 5"/>
<polyline points="11.2,741.0 21.8,720.0 32.5,779.0 43.1,794.4 53.8,710.4 64.5,709.6 75.1,784.6 85.8,732.0 96.4,778.4 107.1,715.4 117.7,758.0 128.4,788.0 139.1,778.4 149.7,788.4 160.4,695.4 171.0,745.6 181.7,765.0 192.3,694.4 203.0,688.0 213.7,692.4 224.3,700.4 235.0,672.0 245.6,694.4 256.3,674.6 266.9,678.0 277.6,694.4 288.2,752.4 298.9,702.4 309.6,704.4 320.2,752.0 330.9,779.0 341.5,733.6 352.2,720.0 362.8,716.6 373.5,757.8 384.2,799.0 394.8,752.0 405.5,711.0 416.1,776.0 426.8,708.0 437.4,775.6 448.1,774.6 458.8,705.4 469.4,722.0 480.1,752.4 490.7,717.4 501.4,745.4 512.0,690.6 522.7,766.0 533.3,695.4 544.0,689.6 554.7,687.0 565.3,751.4 576.0,702.0 586.6,706.6 597.3,697.0 607.9,675.4 618.6,786.0 629.3,742.0 639.9,703.6 650.6,703.0 661.2,708.0 671.9,698.6 682.5,674.4 693.2,778.4 703.9,744.4 714.5,769.0 725.2,780.0 735.8,717.4 746.5,703.4 757.1,695.4 767.8,787.6 778.4,727.4 789.1,736.4 799.8,780.0 810.4,708.0 821.1,708.0 831.7,698.4 842.4,702.6 853.0,683.0 863.7,668.6 874.4,690.6 885.0,761.4 895.7,708.4 906.3,712.4 917.0,711.6 927.6,689.6 938.3,781.0 949.0,708.0 959.6,753.0 970.3,716.0 980.9,706.4 991.6,677.6 1002.2,690.0 1012.9,694.0 1023.5,678.4 1034.2,769.4 1044.9,785.6 1055.5,716.4 1066.2,751.4 1076.8,706.4 1087.5,787.0 1098.1,739.0 1108.8,716.6 1119.5,783.4 1130.1,712.4 1140.8,764.0 1151.4,765.4 1162.1,691.6 1172.7,686.4 1183.4,692.4 1194.1,679.4 1204.7,699.6 1215.4,674.4 1226.0,693.0 1236.7,680.4 1247.3,666.4 1258.0,772.0 1268.6,788.4 1279.3,710.6 1290.0,730.4 1300.6,700.0 1311.3,693.4 1321.9,680.6 1332.6,768.0 1343.2,728.6 1353.9,718.0 1364.6,718.0 1375.2,685.4 1385.9,745.6 1396.5,723.0 1407.2,684.6 1417.8,678.4 1428.5,676.0 1439.2,681.8 1449.8,771.0 1460.5,785.0 1471.1,801.4 1481.8,708.0 1492.4,761.0 1503.1,720.4 1513.7,763.4 1524.4,692.4 1535.1,694.4 1545.7,704.8 1556.4,695.4 1567.0,773.0 1577.7,794.0 1588.3,800.0 1599.0,806.0 1609.7,737.4 1620.3,780.4 1631.0,708.0 1641.6,717.4" fill="none" stroke="#2962FF" stroke-width="1" stroke-linejoin="round"/>
<text x="18.2" y="667.7" font-size="12" fill="#131722" stroke="#131722" stroke-width="0.22" textLength="22.3" lengthAdjust="spacingAndGlyphs">CRSI</text>
<text x="45.9" y="667.7" font-size="12" fill="#131722" stroke="#131722" stroke-width="0.22" textLength="12.8" lengthAdjust="spacingAndGlyphs">(3,</text>
<text x="63.8" y="667.7" font-size="12" fill="#131722" stroke="#131722" stroke-width="0.22" textLength="9.5" lengthAdjust="spacingAndGlyphs">2,</text>
<text x="79" y="667.7" font-size="12" fill="#131722" stroke="#131722" stroke-width="0.22" textLength="21.4" lengthAdjust="spacingAndGlyphs">100)</text>
<text x="108.8" y="667.7" font-size="12" fill="#2962FF" stroke="#2962FF" stroke-width="0.22" textLength="29.0" lengthAdjust="spacingAndGlyphs">64,68</text>
<text x="1761.8" y="669.0" font-size="12" fill="#131722" stroke="#131722" stroke-width="0.22">100,00</text>
<text x="1761.8" y="706.0" font-size="12" fill="#131722" stroke="#131722" stroke-width="0.22">75,00</text>
<text x="1761.8" y="742.2" font-size="12" fill="#131722" stroke="#131722" stroke-width="0.22">50,00</text>
<text x="1761.8" y="778.9" font-size="12" fill="#131722" stroke="#131722" stroke-width="0.22">25,00</text>
<text x="1761.8" y="815.8" font-size="12" fill="#131722" stroke="#131722" stroke-width="0.22">0,00</text>
<path d="M1754,709.5 H1793 Q1795,709.5 1795,711.5 V724 Q1795,726 1793,726 H1754 Z" fill="#2962FF"/>
<text x="1761.8" y="721.3" font-size="12" fill="#fff" font-weight="bold" textLength="29.8" lengthAdjust="spacingAndGlyphs">64,68</text>
<text x="21.3" y="839.3" font-size="12" fill="#131722" stroke="#131722" stroke-width="0.22" text-anchor="middle" textLength="12.0" lengthAdjust="spacingAndGlyphs">17</text>
<text x="85.2" y="839.3" font-size="12" fill="#131722" stroke="#131722" stroke-width="0.22" text-anchor="middle" textLength="12.0" lengthAdjust="spacingAndGlyphs">18</text>
<text x="149.2" y="839.3" font-size="12" fill="#131722" stroke="#131722" stroke-width="0.22" text-anchor="middle" textLength="12.0" lengthAdjust="spacingAndGlyphs">19</text>
<text x="213.2" y="839.3" font-size="12" fill="#131722" stroke="#131722" stroke-width="0.22" text-anchor="middle" textLength="12.0" lengthAdjust="spacingAndGlyphs">22</text>
<text x="277.1" y="839.3" font-size="12" fill="#131722" stroke="#131722" stroke-width="0.22" text-anchor="middle" textLength="12.0" lengthAdjust="spacingAndGlyphs">23</text>
<text x="341.1" y="839.3" font-size="12" fill="#131722" stroke="#131722" stroke-width="0.22" text-anchor="middle" textLength="12.0" lengthAdjust="spacingAndGlyphs">24</text>
<text x="405.0" y="839.3" font-size="12" fill="#131722" stroke="#131722" stroke-width="0.22" text-anchor="middle" textLength="12.0" lengthAdjust="spacingAndGlyphs">25</text>
<text x="469.0" y="839.3" font-size="12" fill="#131722" stroke="#131722" stroke-width="0.22" text-anchor="middle" textLength="12.0" lengthAdjust="spacingAndGlyphs">26</text>
<text x="532.9" y="839.3" font-size="12" fill="#131722" stroke="#131722" stroke-width="0.22" text-anchor="middle" textLength="12.0" lengthAdjust="spacingAndGlyphs">29</text>
<text x="596.9" y="839.3" font-size="12" fill="#131722" stroke="#131722" stroke-width="0.22" text-anchor="middle" textLength="12.0" lengthAdjust="spacingAndGlyphs">30</text>
<text x="660.8" y="839.3" font-size="12" fill="#131722" font-weight="bold" text-anchor="middle">Eki</text>
<text x="724.8" y="839.3" font-size="12" fill="#131722" stroke="#131722" stroke-width="0.22" text-anchor="middle">2</text>
<text x="788.7" y="839.3" font-size="12" fill="#131722" stroke="#131722" stroke-width="0.22" text-anchor="middle">3</text>
<text x="852.6" y="839.3" font-size="12" fill="#131722" stroke="#131722" stroke-width="0.22" text-anchor="middle">6</text>
<text x="916.6" y="839.3" font-size="12" fill="#131722" stroke="#131722" stroke-width="0.22" text-anchor="middle">7</text>
<text x="980.5" y="839.3" font-size="12" fill="#131722" stroke="#131722" stroke-width="0.22" text-anchor="middle">8</text>
<text x="1044.5" y="839.3" font-size="12" fill="#131722" stroke="#131722" stroke-width="0.22" text-anchor="middle">9</text>
<text x="1108.5" y="839.3" font-size="12" fill="#131722" stroke="#131722" stroke-width="0.22" text-anchor="middle" textLength="12.0" lengthAdjust="spacingAndGlyphs">10</text>
<text x="1172.4" y="839.3" font-size="12" fill="#131722" stroke="#131722" stroke-width="0.22" text-anchor="middle" textLength="12.0" lengthAdjust="spacingAndGlyphs">13</text>
<text x="1236.3" y="839.3" font-size="12" fill="#131722" stroke="#131722" stroke-width="0.22" text-anchor="middle" textLength="12.0" lengthAdjust="spacingAndGlyphs">14</text>
<text x="1300.3" y="839.3" font-size="12" fill="#131722" stroke="#131722" stroke-width="0.22" text-anchor="middle" textLength="12.0" lengthAdjust="spacingAndGlyphs">15</text>
<text x="1364.2" y="839.3" font-size="12" fill="#131722" stroke="#131722" stroke-width="0.22" text-anchor="middle" textLength="12.0" lengthAdjust="spacingAndGlyphs">16</text>
<text x="1428.2" y="839.3" font-size="12" fill="#131722" stroke="#131722" stroke-width="0.22" text-anchor="middle" textLength="12.0" lengthAdjust="spacingAndGlyphs">17</text>
<text x="1492.2" y="839.3" font-size="12" fill="#131722" stroke="#131722" stroke-width="0.22" text-anchor="middle" textLength="12.0" lengthAdjust="spacingAndGlyphs">20</text>
<text x="1556.1" y="839.3" font-size="12" fill="#131722" stroke="#131722" stroke-width="0.22" text-anchor="middle" textLength="12.0" lengthAdjust="spacingAndGlyphs">21</text>
<text x="1620.0" y="839.3" font-size="12" fill="#131722" stroke="#131722" stroke-width="0.22" text-anchor="middle" textLength="12.0" lengthAdjust="spacingAndGlyphs">22</text>
<text x="1684.0" y="839.3" font-size="12" fill="#131722" stroke="#131722" stroke-width="0.22" text-anchor="middle" textLength="12.0" lengthAdjust="spacingAndGlyphs">23</text>
<text x="1748.0" y="839.3" font-size="12" fill="#131722" stroke="#131722" stroke-width="0.22" text-anchor="middle" textLength="12.0" lengthAdjust="spacingAndGlyphs">24</text>
<g transform="translate(1641.6,635.4)"><circle r="9.7" fill="none" stroke="#9C27B0" stroke-width="1.4"/><circle cx="6.9" cy="-6.8" r="4.2" fill="#fff"/><circle cx="6.9" cy="-6.8" r="2.6" fill="#F23645"/><path d="M2.2,-4.6 L-4.2,0.4 L0.3,0.4 L-3.2,5.3 L3.4,0 L-0.8,0 Z" fill="#9C27B0" stroke="#9C27B0" stroke-width="0.6" stroke-linejoin="round"/></g>
<g transform="translate(1726.1,635)"><circle r="10.3" fill="#fff" stroke="#F23645" stroke-width="1.4"/><clipPath id="fc"><circle r="8.3"/></clipPath><g clip-path="url(#fc)"><rect x="-9" y="-9" width="18" height="18" fill="#fff"/><rect x="-9" y="-7.3" width="18" height="2.3" fill="#EF5350"/><rect x="-9" y="-2.1" width="18" height="4.2" fill="#EF5350"/><rect x="-9" y="5" width="18" height="3.5" fill="#EF5350"/><rect x="-9" y="-9" width="11" height="10.9" fill="#1E88E5"/><g fill="#fff" fill-opacity="0.8"><rect x="-6.6" y="-6.2" width="1.3" height="1"/><rect x="-4.199999999999999" y="-6.2" width="1.3" height="1"/><rect x="-1.7999999999999998" y="-6.2" width="1.3" height="1"/><rect x="0.5999999999999996" y="-6.2" width="1.3" height="1"/><rect x="-6.6" y="-3.6" width="1.3" height="1"/><rect x="-4.199999999999999" y="-3.6" width="1.3" height="1"/><rect x="-1.7999999999999998" y="-3.6" width="1.3" height="1"/><rect x="0.5999999999999996" y="-3.6" width="1.3" height="1"/><rect x="-6.6" y="-1.0" width="1.3" height="1"/><rect x="-4.199999999999999" y="-1.0" width="1.3" height="1"/><rect x="-1.7999999999999998" y="-1.0" width="1.3" height="1"/><rect x="0.5999999999999996" y="-1.0" width="1.3" height="1"/></g></g></g>
<g fill="#131722"><path d="M12,871.3 H23.8 V885.8 H18 V876.8 H12 Z"/><circle cx="28.6" cy="874.1" r="2.85"/><path d="M34.7,871.3 H41.8 L36.4,885.8 H28.9 Z"/></g>
<text x="49" y="885.8" font-size="20.2" fill="#131722" font-weight="bold" textLength="120.5" lengthAdjust="spacingAndGlyphs">TradingView</text>
</svg>
</body></html>
